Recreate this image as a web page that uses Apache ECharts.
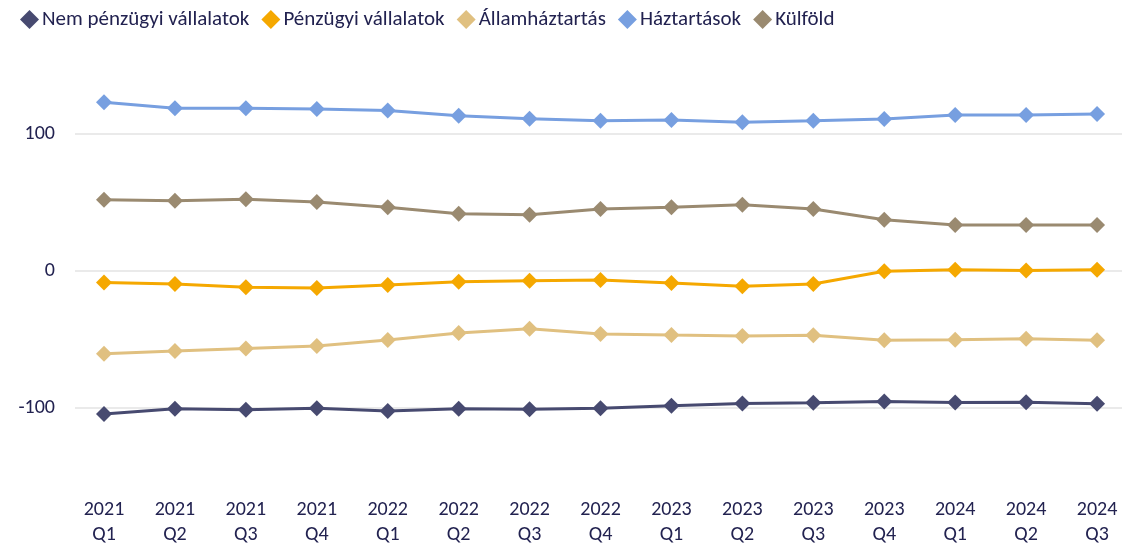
<!DOCTYPE html>
<html>
<head>
<meta charset="utf-8">
<script src="https://cdn.jsdelivr.net/npm/echarts@6/dist/echarts.min.js"></script>
<style>html,body{margin:0;padding:0;background:#fff}#c{width:1122px;height:545px}</style>
</head>
<body>
<div id="c"></div>
<script>
const categories = ['2021\nQ1','2021\nQ2','2021\nQ3','2021\nQ4','2022\nQ1','2022\nQ2','2022\nQ3','2022\nQ4','2023\nQ1','2023\nQ2','2023\nQ3','2023\nQ4','2024\nQ1','2024\nQ2','2024\nQ3'];
const nemPenzugyi = [-104.7,-101,-101.7,-100.5,-102.5,-101,-101.2,-100.5,-98.8,-97.1,-96.6,-95.6,-96.3,-96.1,-97.3];
const penzugyi = [-8.8,-9.9,-12.3,-12.7,-10.5,-8.3,-7.4,-6.9,-9.1,-11.5,-9.8,-0.5,0.5,0,0.5];
const allamhaztartas = [-60.8,-58.8,-56.9,-55.1,-50.7,-45.6,-42.6,-46.3,-47.1,-47.8,-47.3,-51,-50.5,-49.8,-51];
const haztartasok = [122.8,118.4,118.4,117.9,116.7,113,110.8,109.3,109.8,108.3,109.3,110.5,113.5,113.5,114.2];
const kulfold = [51.7,51,52,50,46.1,41.4,40.7,44.9,46.1,48,44.9,37,33.3,33.3,33.3];
const seriesNames = ['Nem pénzügyi vállalatok','Pénzügyi vállalatok','Államháztartás','Háztartások','Külföld'];
const seriesData = [nemPenzugyi, penzugyi, allamhaztartas, haztartasok, kulfold];
const colors = ['#474a70','#f5a800','#e0c080','#779fe0','#9a8a70'];
const yMin = -150, yMax = 150, yStep = 50;

const font = 'Carlito, Lato, sans-serif';
const textColor = '#222250';
const catIdx = categories.map((c, i) => i);
const chart = echarts.init(document.getElementById('c'));
chart.setOption({
  animation: false,
  color: colors,
  legend: {
    left: 15, top: 4, icon: 'diamond', itemWidth: 19, itemHeight: 19, itemGap: 12,
    textStyle: { fontFamily: font, fontSize: 21, color: textColor, padding: [0,0,0,-2] },
    data: seriesNames
  },
  grid: { left: 75, right: 0, top: 65, bottom: 69, outerBoundsMode: 'none', containLabel: false },
  xAxis: {
    type: 'value', min: -0.409, max: 14.352,
    axisLine: { show: false }, axisTick: { show: false }, splitLine: { show: false },
    axisLabel: { fontFamily: font, fontSize: 20, color: textColor, lineHeight: 25, margin: 21,
      customValues: catIdx, formatter: v => categories[Math.round(v)] || '' }
  },
  yAxis: {
    type: 'value', min: yMin, max: yMax, interval: yStep,
    axisLine: { show: false }, axisTick: { show: false },
    axisLabel: { fontFamily: font, fontSize: 20, color: textColor, margin: 20,
      formatter: v => (v % 100 === 0 ? String(v) : '') },
    splitLine: { show: true, lineStyle: { color: ['rgba(0,0,0,0)', '#e3e3e3'], width: 1.5 } }
  },
  series: seriesData.map((d, i) => ({
    name: seriesNames[i], type: 'line', data: d.map((v, j) => [catIdx[j], v]),
    symbol: 'diamond', symbolSize: 16, showSymbol: true,
    lineStyle: { width: 3, color: colors[i] }, itemStyle: { color: colors[i] }, z: 2 + i
  }))
});
</script>
</body>
</html>
